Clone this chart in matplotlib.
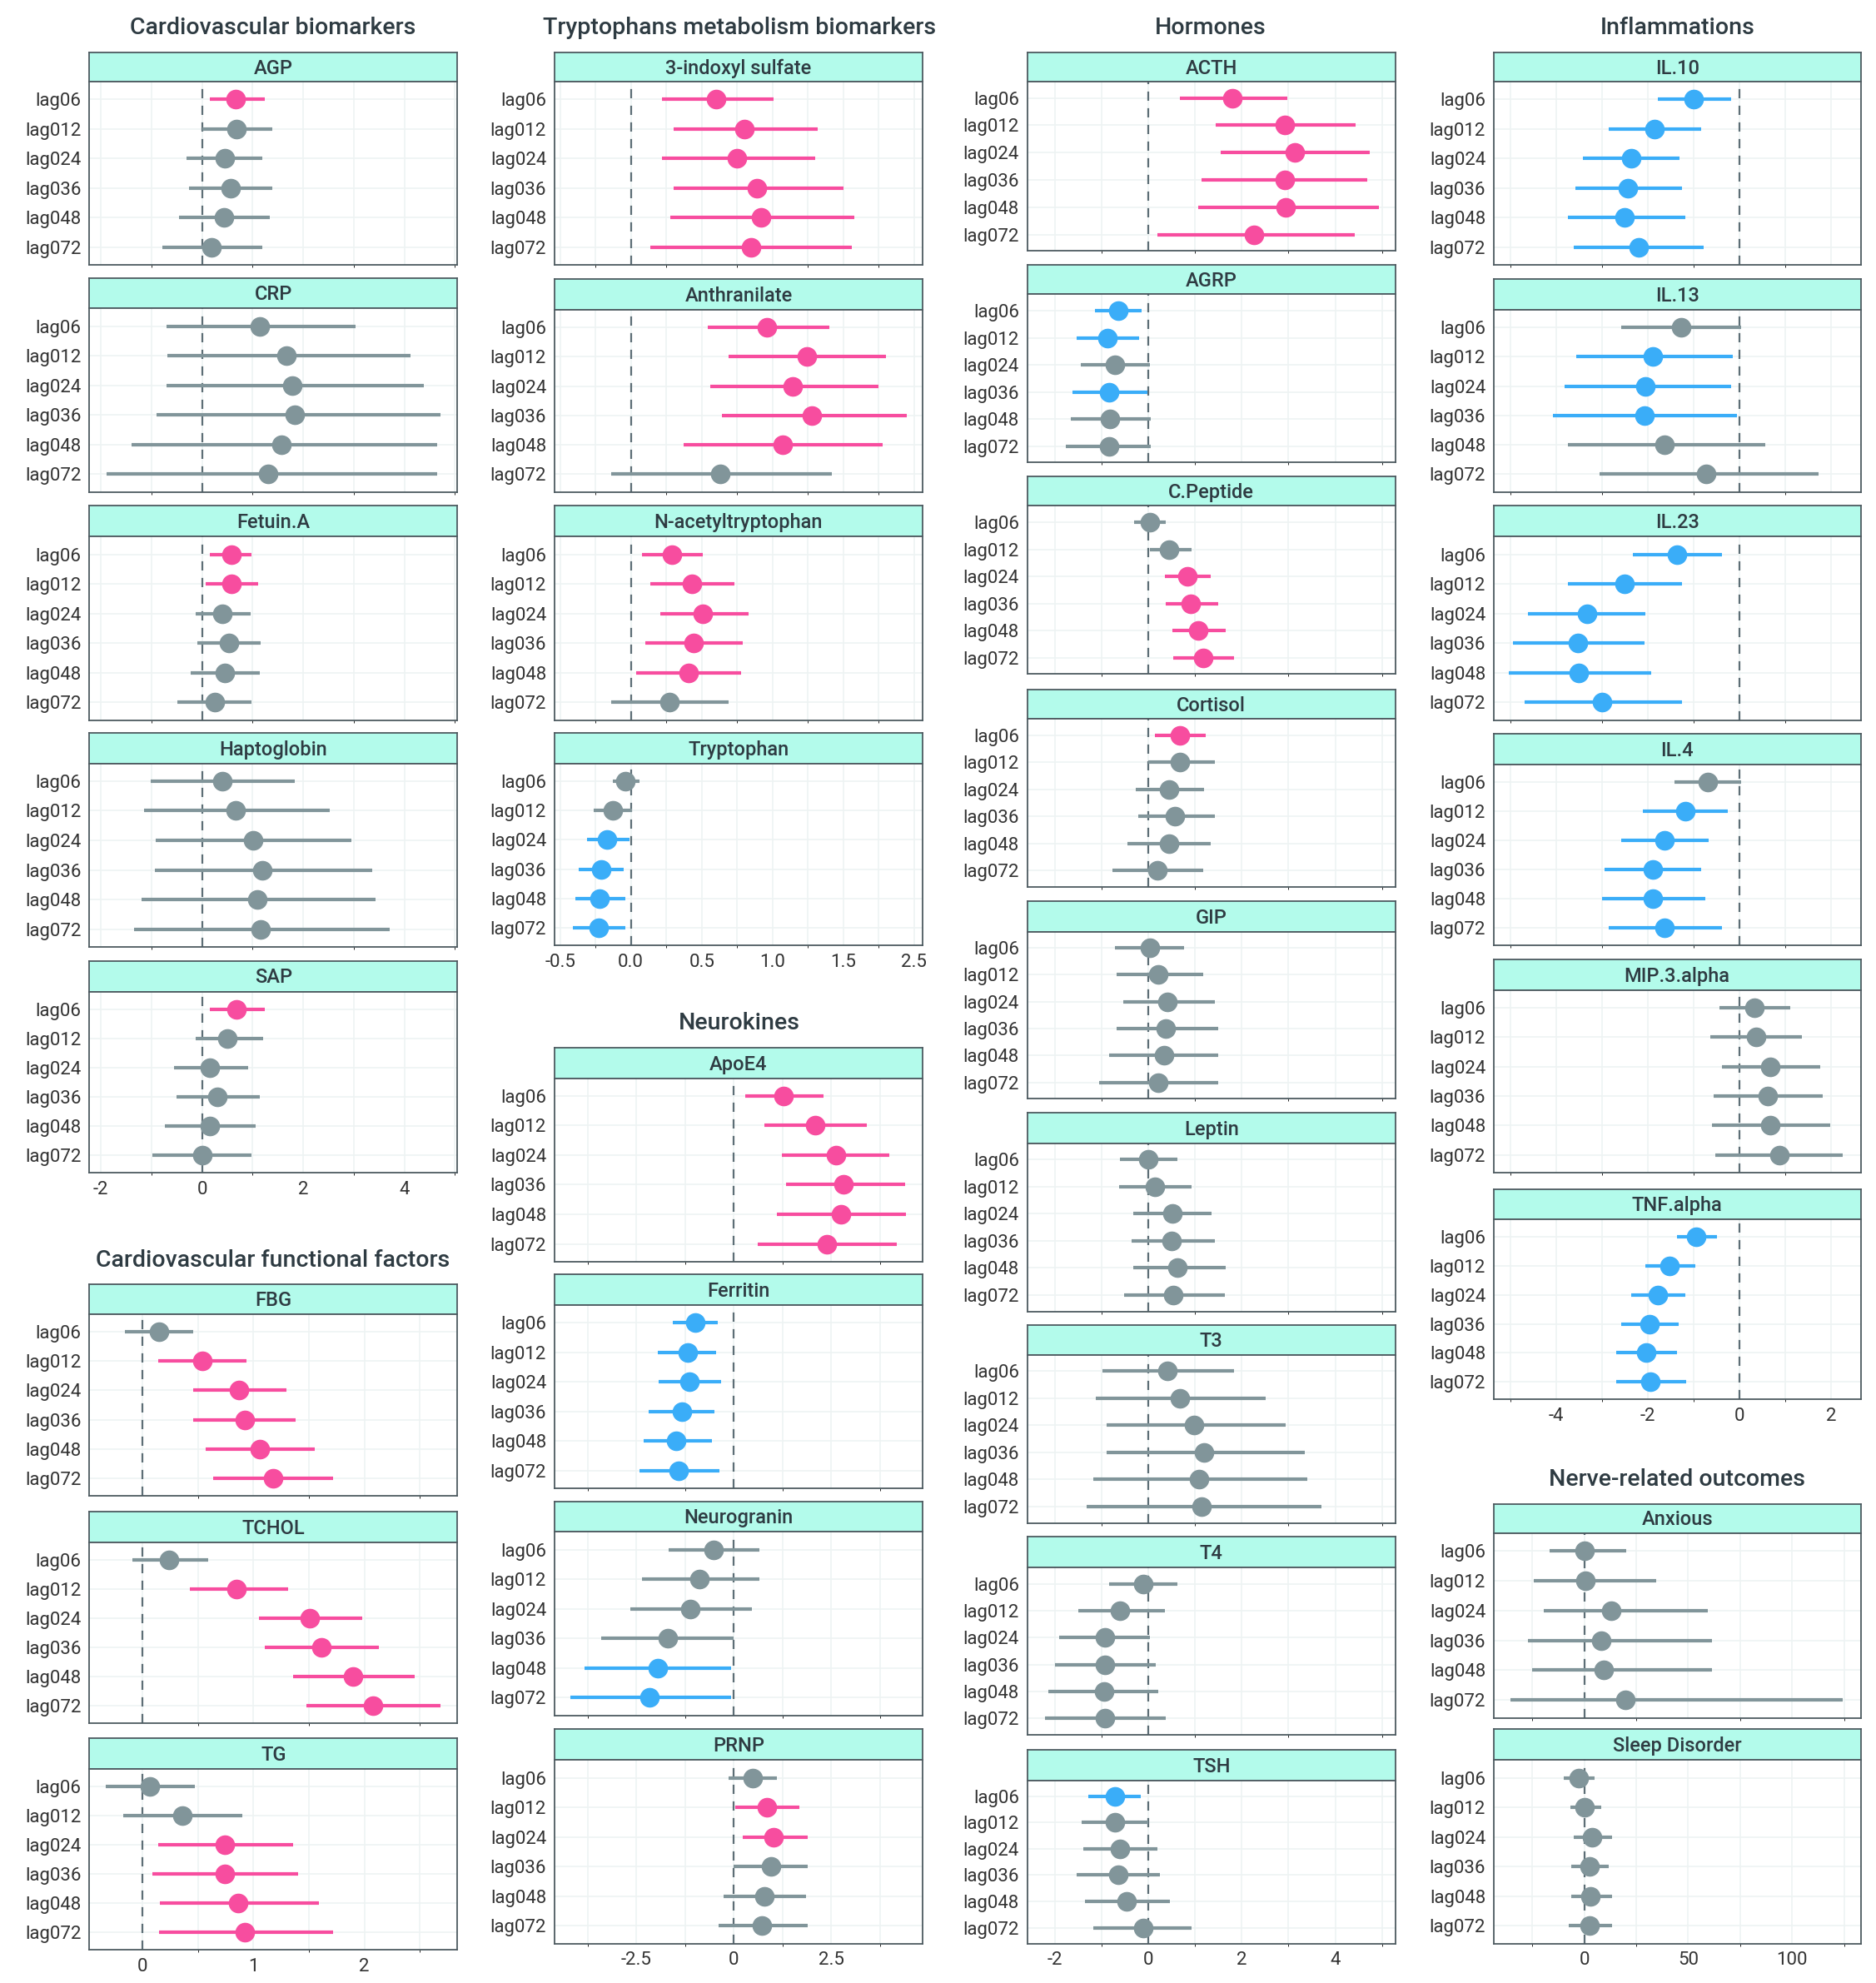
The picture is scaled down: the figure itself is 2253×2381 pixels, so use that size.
import matplotlib
matplotlib.use("Agg")
import matplotlib.pyplot as plt
from matplotlib.ticker import AutoMinorLocator

plt.rcParams["font.family"] = ["Roboto", "DejaVu Sans"]

LAGS = ["lag06", "lag012", "lag024", "lag036", "lag048", "lag072"]
PINK, GREY, BLUE = "#F74D9F", "#81959A", "#3AADF8"
STRIP = "#B3FBEB"
TXT = "#2E3B42"
COLS = {"p": PINK, "g": GREY, "b": BLUE}

# each panel: estimate, lower CI, upper CI, colour code per lag
cardio_bio = {
    "AGP": ([0.66, 0.68, 0.45, 0.56, 0.43, 0.18], [0.15, 0.0, -0.3, -0.25, -0.45, -0.78],
            [1.24, 1.39, 1.19, 1.39, 1.34, 1.19], "pggggg"),
    "CRP": ([1.14, 1.67, 1.79, 1.84, 1.57, 1.31], [-0.7, -0.68, -0.7, -0.9, -1.39, -1.89],
            [3.03, 4.12, 4.39, 4.72, 4.65, 4.65], "gggggg"),
    "Fetuin.A": ([0.58, 0.58, 0.4, 0.53, 0.45, 0.25], [0.15, 0.08, -0.13, -0.1, -0.23, -0.48],
                 [0.98, 1.11, 0.96, 1.16, 1.14, 0.98], "ppgggg"),
    "Haptoglobin": ([0.4, 0.66, 1.01, 1.19, 1.09, 1.16], [-1.01, -1.14, -0.91, -0.93, -1.19, -1.34],
                    [1.84, 2.53, 2.95, 3.36, 3.43, 3.71], "gggggg"),
    "SAP": ([0.68, 0.5, 0.15, 0.3, 0.15, 0.0], [0.15, -0.13, -0.56, -0.5, -0.73, -0.98],
            [1.24, 1.21, 0.91, 1.14, 1.06, 0.98], "pggggg"),
}
cardio_fun = {
    "FBG": ([0.15, 0.54, 0.87, 0.92, 1.06, 1.18], [-0.16, 0.14, 0.46, 0.46, 0.57, 0.64],
            [0.46, 0.94, 1.3, 1.38, 1.55, 1.72], "gppppp"),
    "TCHOL": ([0.24, 0.85, 1.51, 1.61, 1.9, 2.08], [-0.09, 0.43, 1.05, 1.1, 1.36, 1.48],
              [0.59, 1.31, 1.98, 2.13, 2.45, 2.69], "gppppp"),
    "TG": ([0.07, 0.36, 0.74, 0.74, 0.86, 0.92], [-0.33, -0.17, 0.14, 0.09, 0.16, 0.15],
           [0.47, 0.9, 1.36, 1.4, 1.59, 1.72], "ggpppp"),
}
trypto = {
    "3-indoxyl sulfate": ([0.6, 0.8, 0.75, 0.89, 0.92, 0.85], [0.22, 0.3, 0.22, 0.3, 0.28, 0.14],
                          [1.01, 1.32, 1.3, 1.5, 1.58, 1.56], "pppppp"),
    "Anthranilate": ([0.96, 1.24, 1.14, 1.28, 1.07, 0.63], [0.54, 0.69, 0.56, 0.64, 0.37, -0.14],
                     [1.4, 1.8, 1.75, 1.95, 1.78, 1.42], "pppppg"),
    "N-acetyltryptophan": ([0.29, 0.43, 0.51, 0.44, 0.41, 0.27], [0.08, 0.14, 0.21, 0.1, 0.04, -0.14],
                           [0.51, 0.73, 0.83, 0.79, 0.78, 0.69], "pppppg"),
    "Tryptophan": ([-0.04, -0.13, -0.17, -0.21, -0.22, -0.23], [-0.13, -0.26, -0.31, -0.37, -0.39, -0.41],
                   [0.06, 0.01, -0.01, -0.05, -0.04, -0.04], "ggbbbb"),
}
neuro = {
    "ApoE4": ([1.27, 2.09, 2.61, 2.81, 2.75, 2.39], [0.29, 0.78, 1.24, 1.34, 1.11, 0.62],
              [2.29, 3.4, 3.99, 4.38, 4.41, 4.18], "pppppp"),
    "Ferritin": ([-0.98, -1.18, -1.14, -1.34, -1.47, -1.41], [-1.57, -1.96, -1.93, -2.19, -2.32, -2.42],
                 [-0.42, -0.46, -0.33, -0.49, -0.56, -0.36], "bbbbbb"),
    "Neurogranin": ([-0.52, -0.88, -1.11, -1.7, -1.96, -2.16], [-1.67, -2.35, -2.65, -3.4, -3.82, -4.18],
                    [0.65, 0.65, 0.46, 0.0, -0.07, -0.07], "ggggbb"),
    "PRNP": ([0.49, 0.85, 1.01, 0.95, 0.78, 0.72], [-0.13, 0.03, 0.23, 0.0, -0.26, -0.39],
             [1.11, 1.67, 1.9, 1.9, 1.86, 1.9], "gppggg"),
}
hormones = {
    "ACTH": ([1.8, 2.92, 3.13, 2.92, 2.94, 2.26], [0.68, 1.44, 1.55, 1.14, 1.06, 0.19],
             [2.97, 4.44, 4.74, 4.69, 4.93, 4.41], "pppppp"),
    "AGRP": ([-0.65, -0.87, -0.71, -0.84, -0.82, -0.84], [-1.14, -1.53, -1.44, -1.63, -1.66, -1.77],
             [-0.14, -0.19, 0.03, -0.02, 0.05, 0.05], "bbgbgg"),
    "C.Peptide": ([0.03, 0.44, 0.84, 0.9, 1.06, 1.17], [-0.3, 0.03, 0.35, 0.38, 0.52, 0.54],
                  [0.38, 0.93, 1.34, 1.5, 1.66, 1.83], "ggpppp"),
    "Cortisol": ([0.68, 0.68, 0.44, 0.57, 0.44, 0.19], [0.14, 0.0, -0.27, -0.22, -0.44, -0.76],
                 [1.23, 1.42, 1.2, 1.42, 1.34, 1.17], "pggggg"),
    "GIP": ([0.03, 0.22, 0.41, 0.38, 0.33, 0.22], [-0.71, -0.68, -0.54, -0.68, -0.84, -1.06],
            [0.76, 1.17, 1.42, 1.5, 1.5, 1.5], "gggggg"),
    "Leptin": ([0.0, 0.14, 0.52, 0.49, 0.63, 0.54], [-0.6, -0.63, -0.33, -0.35, -0.33, -0.52],
               [0.63, 0.93, 1.36, 1.42, 1.66, 1.63], "gggggg"),
    "T3": ([0.41, 0.68, 0.98, 1.2, 1.09, 1.14], [-0.98, -1.12, -0.9, -0.9, -1.17, -1.31],
           [1.83, 2.51, 2.94, 3.35, 3.4, 3.71], "gggggg"),
    "T4": ([-0.11, -0.6, -0.93, -0.93, -0.95, -0.93], [-0.84, -1.5, -1.91, -1.99, -2.13, -2.21],
           [0.63, 0.35, 0.03, 0.16, 0.22, 0.38], "gggggg"),
    "TSH": ([-0.71, -0.71, -0.6, -0.65, -0.46, -0.11], [-1.28, -1.42, -1.39, -1.53, -1.36, -1.17],
            [-0.16, 0.0, 0.19, 0.25, 0.46, 0.93], "bggggg"),
}
inflam = {
    "IL.10": ([-1.0, -1.86, -2.36, -2.44, -2.5, -2.19], [-1.78, -2.86, -3.42, -3.58, -3.75, -3.61],
              [-0.19, -0.83, -1.31, -1.25, -1.19, -0.78], "bbbbbb"),
    "IL.13": ([-1.28, -1.89, -2.06, -2.08, -1.64, -0.72], [-2.58, -3.56, -3.81, -4.06, -3.75, -3.06],
              [0.03, -0.14, -0.19, -0.06, 0.56, 1.72], "gbbbgg"),
    "IL.23": ([-1.36, -2.5, -3.33, -3.53, -3.5, -3.0], [-2.33, -3.75, -4.61, -4.94, -5.03, -4.69],
              [-0.39, -1.25, -2.06, -2.08, -1.92, -1.25], "bbbbbb"),
    "IL.4": ([-0.69, -1.19, -1.64, -1.89, -1.89, -1.64], [-1.42, -2.11, -2.58, -2.94, -3.0, -2.86],
             [0.03, -0.25, -0.67, -0.83, -0.75, -0.39], "gbbbbb"),
    "MIP.3.alpha": ([0.33, 0.36, 0.67, 0.61, 0.67, 0.86], [-0.44, -0.64, -0.39, -0.56, -0.61, -0.53],
                    [1.11, 1.36, 1.75, 1.81, 1.97, 2.25], "gggggg"),
    "TNF.alpha": ([-0.94, -1.53, -1.78, -1.97, -2.03, -1.94], [-1.36, -2.06, -2.36, -2.58, -2.69, -2.69],
                  [-0.5, -0.97, -1.19, -1.33, -1.36, -1.17], "bbbbbb"),
}
nerve = {
    "Anxious": ([0.0, 0.6, 12.9, 8.0, 9.2, 19.6], [-16.6, -24.5, -19.6, -27.0, -25.2, -35.6],
                [20.2, 34.4, 59.5, 61.3, 61.3, 124.5], "gggggg"),
    "Sleep Disorder": ([-2.5, 0.0, 3.7, 2.5, 3.1, 2.5], [-9.8, -6.7, -4.9, -6.1, -6.1, -7.4],
                       [4.9, 8.0, 13.5, 11.7, 13.5, 13.5], "gggggg"),
}

W, H = 1472.0, 1556.0
fig = plt.figure(figsize=(22.53, 23.81), dpi=100)


def draw_panel(x0, x1, strip_top, top, bottom, name, data, xlim, ticks, labels=None, show_x=False):
    est, lo, hi, sig = data
    strip = fig.add_axes([x0 / W, 1 - top / H, (x1 - x0) / W, (top - strip_top) / H])
    strip.set_facecolor(STRIP)
    strip.set_xticks([]); strip.set_yticks([])
    for s in strip.spines.values():
        s.set_color("#4d5a60"); s.set_linewidth(1.3)
    strip.text(0.5, 0.45, name, ha="center", va="center", fontsize=17, fontweight="medium", color=TXT)

    ax = fig.add_axes([x0 / W, 1 - bottom / H, (x1 - x0) / W, (bottom - top) / H])
    y = list(range(len(LAGS)))
    ax.axvline(0, color="#5d6e76", ls=(0, (5, 4)), lw=1.6, zorder=2)
    for yi, e, l, h, c in zip(y, est, lo, hi, sig):
        ax.plot([l, h], [yi, yi], color=COLS[c], lw=3.0, solid_capstyle="butt", zorder=3)
        ax.plot(e, yi, "o", color=COLS[c], ms=16, zorder=4)
    ax.set_ylim(5.6, -0.6)
    ax.set_yticks(y)
    ax.set_yticklabels(LAGS)
    ax.set_xlim(*xlim)
    ax.set_xticks(ticks)
    if show_x:
        ax.set_xticklabels(labels if labels else [f"{t:g}" for t in ticks])
    else:
        ax.set_xticklabels([])
    ax.xaxis.set_minor_locator(AutoMinorLocator(2))
    ax.grid(True, which="both", color="#eef3f3", lw=1.2, zorder=0)
    ax.tick_params(length=0, labelsize=16, labelcolor="#333333", pad=7)
    for s in ax.spines.values():
        s.set_color("#4d5a60"); s.set_linewidth(1.3)


def title(xc, yc, text):
    fig.text(xc / W, 1 - yc / H, text, ha="center", va="center", fontsize=20.5,
             fontweight="medium", color=TXT)


def column(x0, x1, group, layout, xlim, ticks, labels=None):
    names = list(group)
    for i, (n, (st, tp, bt)) in enumerate(zip(names, layout)):
        draw_panel(x0, x1, st, tp, bt, n, group[n], xlim, ticks, labels, show_x=(i == len(names) - 1))


title(214, 22, "Cardiovascular biomarkers")
column(70, 359, cardio_bio,
       [(41, 64, 208), (218, 242, 386), (397, 421, 565), (575, 599, 743), (754, 778, 920)],
       (-2.23, 5.05), [-2, 0, 2, 4])
title(214, 989, "Cardiovascular functional factors")
column(70, 359, cardio_fun,
       [(1008, 1031, 1174), (1186, 1210, 1352), (1364, 1388, 1530)],
       (-0.48, 2.84), [0, 1, 2])

title(580, 22, "Tryptophans metabolism biomarkers")
column(435, 724, trypto,
       [(41, 64, 208), (219, 243, 386), (397, 421, 565), (575, 599, 742)],
       (-0.54, 2.06), [-0.5, 0.0, 0.5, 1.0, 1.5, 2.0], ["-0.5", "0.0", "0.5", "1.0", "1.5", "2.5"])
title(580, 803, "Neurokines")
column(435, 724, neuro,
       [(822, 846, 990), (1000, 1024, 1168), (1178, 1202, 1346), (1357, 1381, 1525)],
       (-4.6, 4.84), [-2.5, 0.0, 2.5])

title(950, 22, "Hormones")
column(806, 1095, hormones,
       [(41, 64, 197), (208, 231, 363), (374, 397, 529), (541, 564, 696), (707, 731, 862),
        (873, 897, 1029), (1040, 1063, 1195), (1206, 1230, 1361), (1373, 1397, 1525)],
       (-2.59, 5.29), [-2, 0, 2, 4])

title(1316, 22, "Inflammations")
column(1172, 1460, inflam,
       [(41, 64, 208), (219, 243, 386), (397, 421, 565), (576, 600, 742), (753, 777, 920), (933, 957, 1098)],
       (-5.36, 2.64), [-4, -2, 0, 2])
title(1316, 1161, "Nerve-related outcomes")
column(1172, 1460, nerve,
       [(1180, 1203, 1348), (1357, 1381, 1525)],
       (-43.6, 133), [0, 50, 100])

fig.savefig("out.png", dpi=100, facecolor="white")
